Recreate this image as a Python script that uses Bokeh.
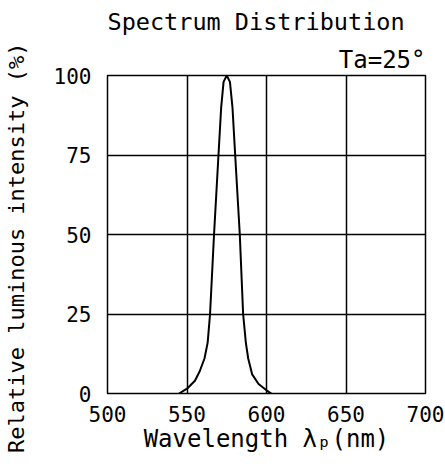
from bokeh.plotting import figure
from bokeh.models import Range1d, FixedTicker, Title
from bokeh.embed import file_html
from bokeh.resources import INLINE

wavelength = [545, 550, 555, 558, 561, 563, 564.5, 567, 569.8, 571.5, 573, 575,
              577, 578.6, 580.3, 583.2, 585.3, 587, 588.5, 591, 595, 600, 603]
intensity = [0, 1.5, 4, 7, 11, 16, 25, 50, 75, 90, 98, 100,
             98, 90, 75, 50, 25, 16, 11, 6, 3, 1, 0]
x_ticks = [500, 550, 600, 650, 700]
y_ticks = [0, 25, 50, 75, 100]

FONT = "DejaVu Sans Mono"

p = figure(width=445, height=467, output_backend="svg", toolbar_location=None,
           frame_width=318, frame_height=318,
           x_range=Range1d(500, 700), y_range=Range1d(0, 100),
           min_border_left=105, min_border_right=22, min_border_top=75, min_border_bottom=74)

p.line(wavelength, intensity, line_color="black", line_width=2)

for ax in (p.xaxis[0], p.yaxis[0]):
    ax.axis_line_color = None
    ax.major_tick_line_color = None
    ax.minor_tick_line_color = None
    ax.major_label_text_font = FONT
    ax.major_label_text_font_size = "21px"
    ax.major_label_text_color = "black"
    ax.axis_label_text_font = FONT
    ax.axis_label_text_font_style = "normal"
    ax.axis_label_text_color = "black"

p.xaxis[0].axis_label_text_font_size = "24px"
p.yaxis[0].axis_label_text_font_size = "22px"
p.xaxis[0].ticker = FixedTicker(ticks=x_ticks)
p.yaxis[0].ticker = FixedTicker(ticks=y_ticks)
p.xaxis[0].major_label_standoff = 6
p.yaxis[0].major_label_standoff = 10
p.xaxis[0].axis_label = "Wavelength λₚ(nm)"
p.yaxis[0].axis_label = "Relative luminous intensity (%)\u00a0\u00a0"
p.xaxis[0].axis_label_standoff = 0
p.yaxis[0].axis_label_standoff = 22

p.xgrid.grid_line_color = "black"
p.ygrid.grid_line_color = "black"
p.xgrid.grid_line_width = 1.5
p.ygrid.grid_line_width = 1.5
p.xgrid.ticker = FixedTicker(ticks=x_ticks)
p.ygrid.ticker = FixedTicker(ticks=y_ticks)

p.outline_line_color = "black"
p.outline_line_width = 1.5
p.background_fill_color = "white"
p.border_fill_color = "white"

# Main title (outermost)
p.title.text = "Spectrum Distribution"
p.title.align = "left"
p.title.vertical_align = "top"
p.title.offset = 0
p.title.text_font = FONT
p.title.text_font_style = "normal"
p.title.text_font_size = "23.5px"
p.title.text_color = "black"
p.title.standoff = 8

# Condition note (closest to frame)
p.add_layout(Title(text="Ta=25°", align="right",
                   text_font=FONT, text_font_style="normal", text_font_size="24px",
                   text_color="black", standoff=4), "above")

open("out.html", "w").write(file_html(p, INLINE))
